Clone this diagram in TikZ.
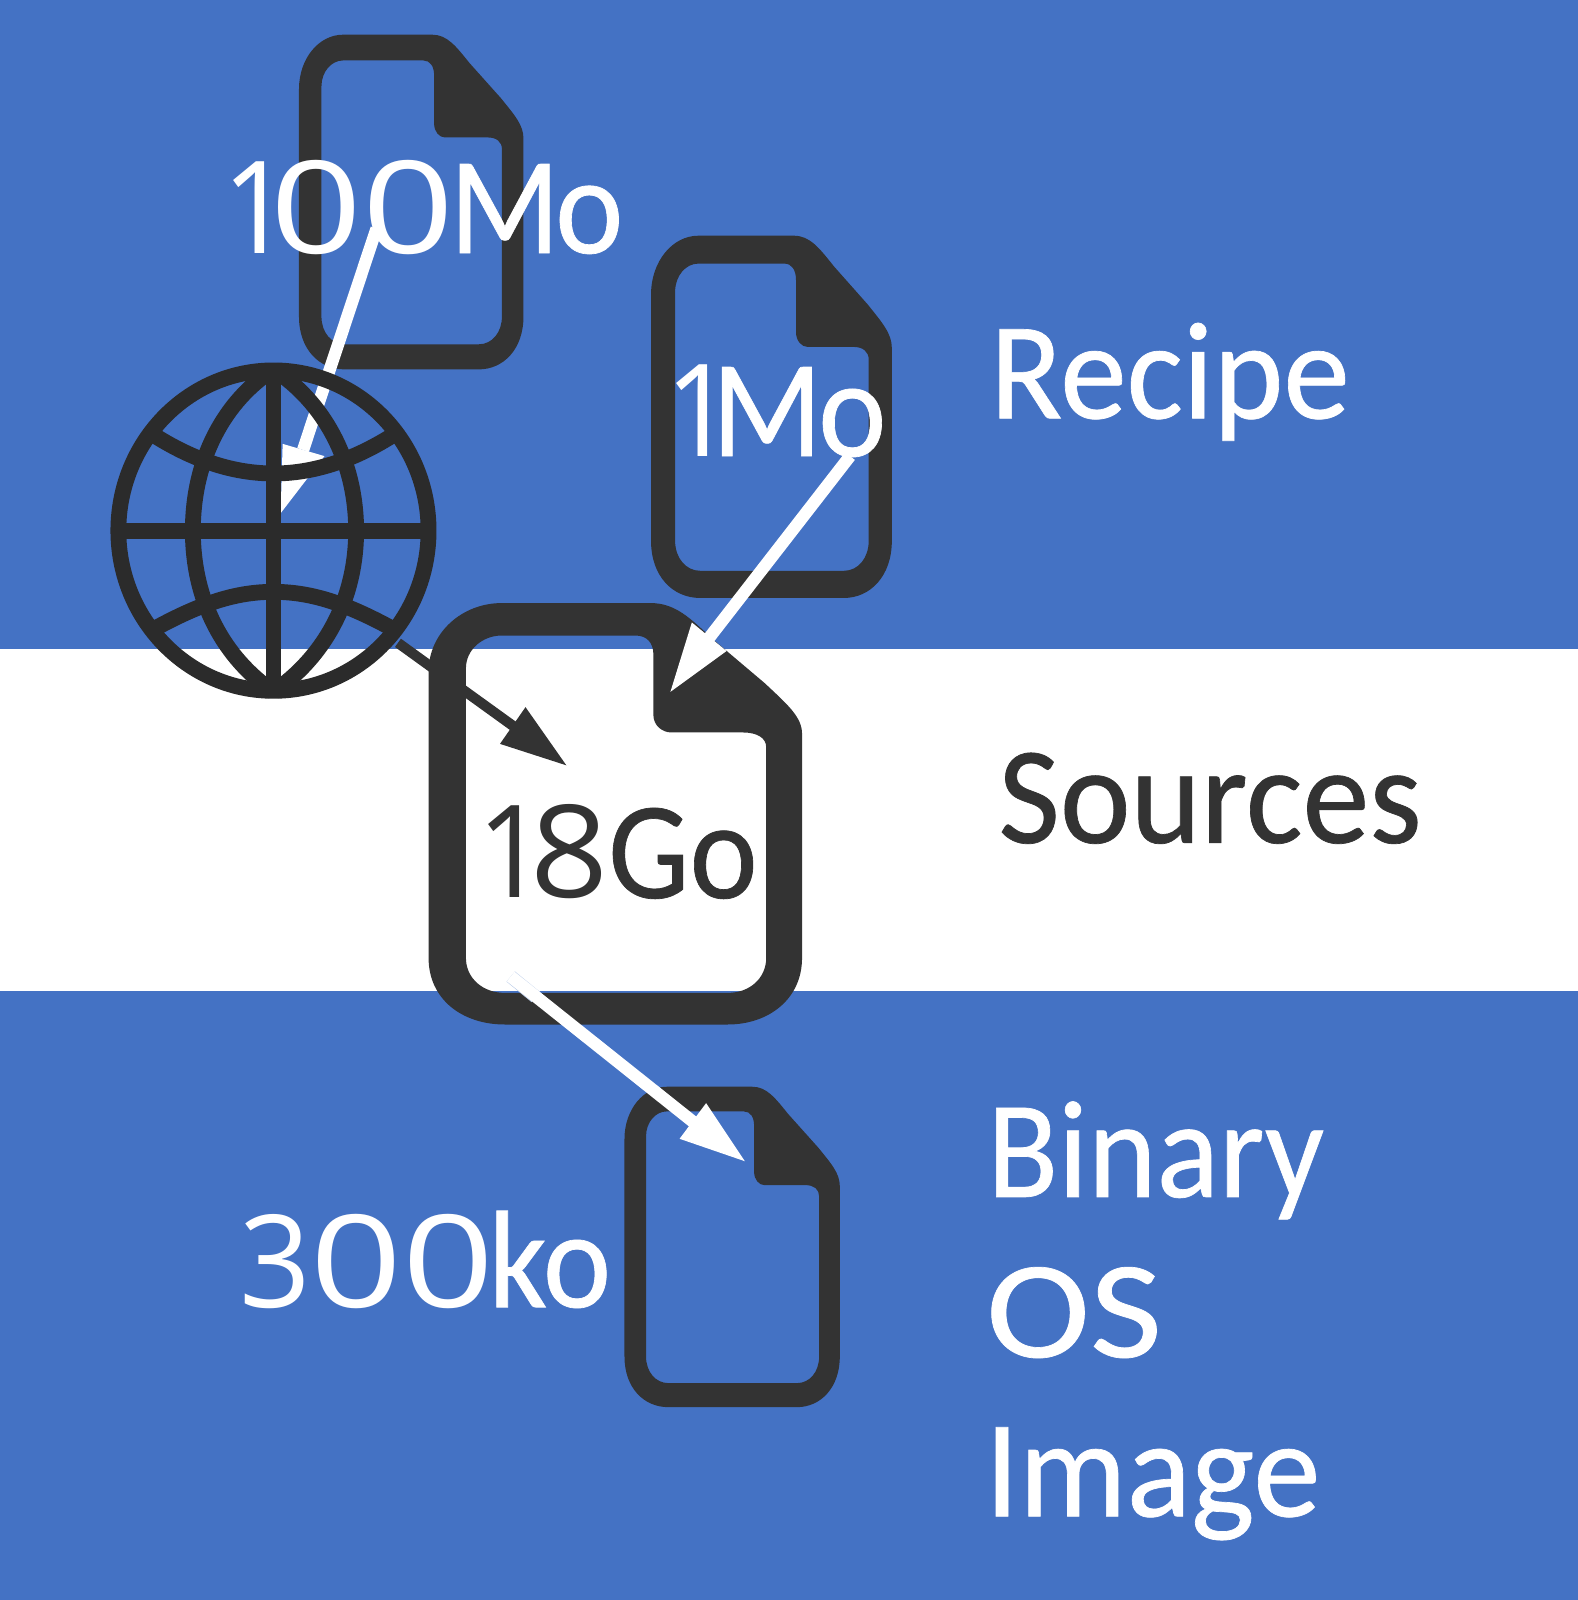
\documentclass[tikz,border=0pt]{standalone}
\usepackage{graphicx}
\usepackage{fontspec}
\setmainfont{Carlito}
\newfontfamily\wordfont[FakeBold=0.5]{Carlito}
\newfontfamily\digitfont[FakeStretch=1.25]{Open Sans}
\definecolor{bandblue}{HTML}{4472C4}
\definecolor{icondark}{HTML}{333333}
\definecolor{globedark}{HTML}{2B2B2B}
\tikzset{
  band/.style={fill=bandblue,draw=none},
  lbl/.style={anchor=base west,inner sep=0pt,font=\fontsize{68}{68}\wordfont,text=white},
  lbldark/.style={lbl,text=icondark},
  whiteline/.style={draw=white,line width=6pt},
  darkline/.style={draw=icondark,line width=5pt},
  globeline/.style={draw=globedark,line width=7.75pt},
}
\newcommand{\dg}[1]{{\fontsize{63}{63}\digitfont #1}}
\newcommand{\stretched}[2]{\scalebox{#1}[1]{#2}}
\newcommand{\fileicon}[4]{%
  \begin{scope}[shift={(#1,#2)},xscale=#3-#1,yscale=#4-#2]
    \fill[icondark,even odd rule]
      (.196,0) -- (.594,0) .. controls (.66,0) and (.70,.035) .. (.76,.085)
      -- (.90,.19) .. controls (.96,.24) and (1,.27) .. (1,.31)
      -- (1,.842) .. controls (1,.94) and (.91,1) .. (.801,1)
      -- (.204,1) .. controls (.09,1) and (0,.94) .. (0,.842)
      -- (0,.163) .. controls (0,.07) and (.09,0) .. (.196,0) -- cycle
      (.196,.077) -- (.554,.077) .. controls (.585,.077) and (.602,.095) .. (.602,.122)
      -- (.602,.266) .. controls (.602,.29) and (.625,.307) .. (.65,.307)
      -- (.841,.307) .. controls (.88,.307) and (.904,.32) .. (.904,.342)
      -- (.904,.842) .. controls (.904,.89) and (.86,.925) .. (.801,.925)
      -- (.204,.925) .. controls (.145,.925) and (.1,.89) .. (.1,.842)
      -- (.1,.155) .. controls (.1,.11) and (.145,.077) .. (.196,.077) -- cycle;
  \end{scope}}
\begin{document}
\begin{tikzpicture}[x=.5pt,y=-.5pt]
\useasboundingbox (0,0) rectangle (1546,1568);
% bands
\fill[band] (0,0) rectangle (1546,636);
\fill[white] (0,636) rectangle (1546,971);
\fill[band] (0,971) rectangle (1546,1568);

% named ends of the connectors
\coordinate (a1s) at (369,224);  \coordinate (a1e) at (297,441);
\coordinate (a2s) at (390,630);  \coordinate (a2e) at (505,713);
\coordinate (a3s) at (833,447);  \coordinate (a3e) at (695,625);
\coordinate (a4s) at (500.5,957); \coordinate (a4m) at (525,977); \coordinate (a4e) at (680,1100);

% file 100Mo
\fileicon{293}{34}{513}{362}
% arrow 100Mo -> globe
\draw[whiteline] (a1s) -- (a1e);
\fill[white] (277,435) -- (318,447) -- (275,503) -- cycle;
% globe
\coordinate (globe) at (268,520);
\begin{scope}
  \draw[globeline] (globe) ellipse [x radius=152,y radius=157];
  \draw[globeline] (268,365) -- (268,675);
  \draw[globeline] (116,520) -- (420,520);
  \draw[globeline] (268,362) .. controls (220,393) and (189,450) .. (189,520)
                             .. controls (189,590) and (220,645) .. (268,678);
  \draw[globeline] (268,362) .. controls (316,393) and (349,450) .. (349,520)
                             .. controls (349,590) and (316,645) .. (268,678);
  \draw[globeline] (147,424) .. controls (190,452) and (230,464) .. (268,464)
                             .. controls (306,464) and (346,452) .. (389,424);
  \draw[globeline] (148,618) .. controls (195,592) and (230,580) .. (268,580)
                             .. controls (306,580) and (341,592) .. (388,618);
\end{scope}
% file 1Mo, arrow globe -> 18Go, file 18Go
\fileicon{638}{231}{874}{586}
\draw[darkline] (a2s) -- (a2e);
\fill[icondark] (490,729) -- (515,693) -- (555,750) -- cycle;
\fileicon{420}{591}{786}{1004}
\fileicon{612}{1065}{823}{1379}
% white arrows
\draw[whiteline] (a3s) -- (a3e);
\fill[white] (678,610) -- (712,638) -- (657,678) -- cycle;
\draw[bandblue!35,line width=6.5pt] (a4s) -- (a4m);
\draw[whiteline] (a4s) -- (a4e);
\fill[white] (666,1116) -- (692,1081) -- (730,1138) -- cycle;

% texts
\node[lbl] (t100) at (217.5,248) {\stretched{.75}{\dg{1}}\kern-10pt\dg{00}\kern-2.5pt\stretched{.93}{M\kern-2.5pt o}};
\node[lbl] (t1) at (651.5,447) {\stretched{.75}{\dg{1}}\kern-11pt\stretched{.93}{M\kern-2pt o}};
\node[lbldark] (t18) at (467.5,880) {\stretched{.75}{\dg{1}}\kern-8pt\stretched{.85}{\dg{8}}\stretched{.93}{Go}};
\node[lbl] (t300) at (234,1281) {\stretched{.78}{\dg{3}}\dg{00}\kern-3pt\stretched{.93}{ko}};
\node[lbl] (recipe) at (970,410) {\stretched{.96}{Recipe}};
\node[lbldark] (sources) at (978,826) {\stretched{.966}{Sources}};
\node[lbl] (binary) at (967,1173) {\stretched{.94}{Binary}};
\node[lbl] (os) at (966,1330) {\stretched{1.13}{OS}};
\node[lbl] (image) at (965,1486) {\stretched{.97}{Image}};
\end{tikzpicture}
\end{document}
